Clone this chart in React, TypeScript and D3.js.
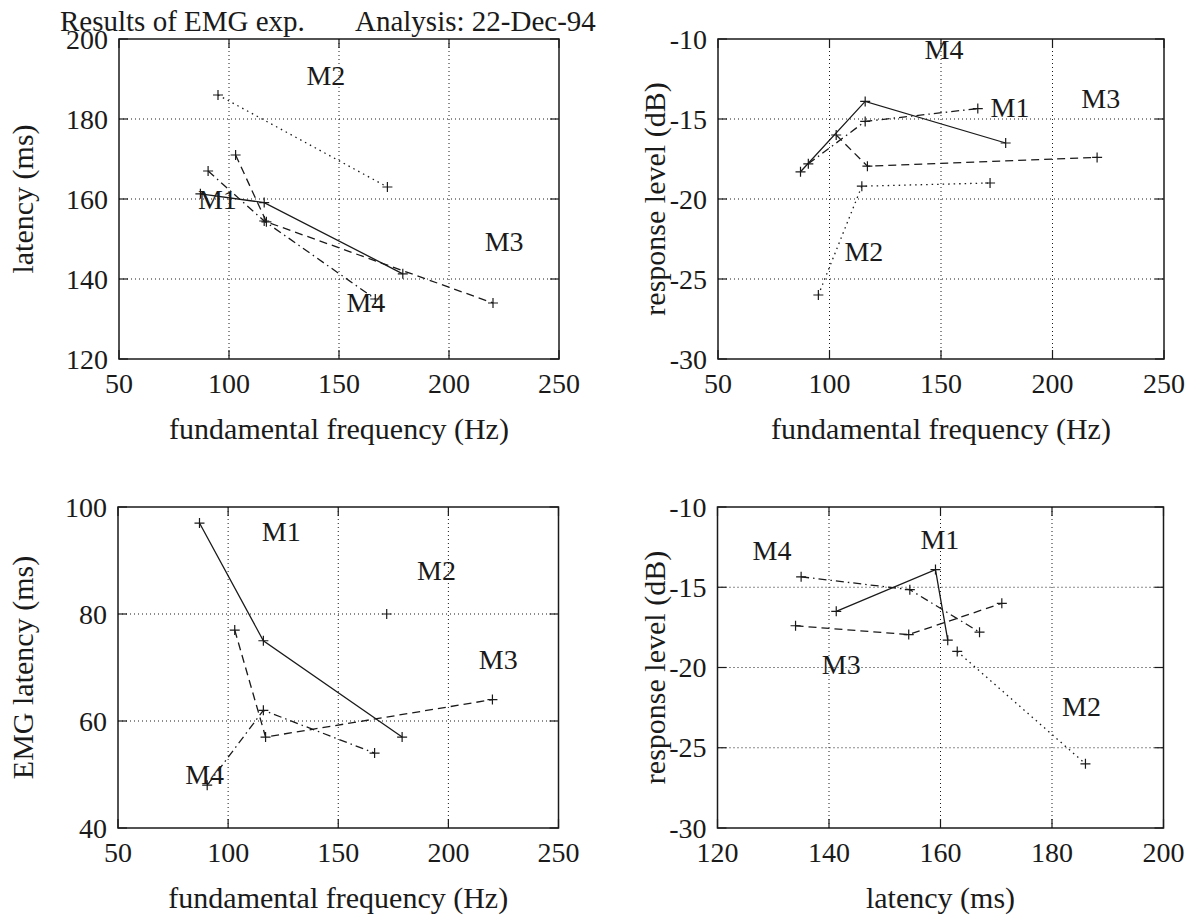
import React from 'react';
import * as d3 from 'd3';

// ---- data (per speaker, same stimulus order) ----
const speakerNames = ['M1', 'M2', 'M3', 'M4'];

const m1F0 = [87, 116, 179];
const m1Latency = [161.3, 159.1, 141.3];
const m1Response = [-18.3, -13.9, -16.5];
const m1Emg = [97, 75, 57];

const m2F0 = [95, 114.5, 172];
const m2Latency = [186, NaN, 163];
const m2Response = [-26, -19.2, -19];
const m2Emg = [NaN, NaN, 80];

const m3F0 = [103, 117, 220];
const m3Latency = [171, 154.3, 134];
const m3Response = [-16, -17.95, -17.4];
const m3Emg = [77, 57, 64];

const m4F0 = [90.5, 116, 166.5];
const m4Latency = [167, 154.5, 135];
const m4Response = [-17.8, -15.15, -14.35];
const m4Emg = [48, 62, 54];

const freqTicks = [50, 100, 150, 200, 250];
const latencyTicks = [120, 140, 160, 180, 200];
const responseTicks = [-30, -25, -20, -15, -10];
const emgTicks = [40, 60, 80, 100];

// speaker label anchors (data units) per panel, order M1..M4
const p1LabelX = [85.9, 135.2, 216.2, 153.4];
const p1LabelY = [157.5, 188.5, 147.1, 131.8];
const p2LabelX = [172.2, 106.7, 212.9, 142.6];
const p2LabelY = [-14.86, -23.9, -14.33, -11.27];
const p3LabelX = [115.3, 185.8, 213.8, 80.5];
const p3LabelY = [93.7, 86.4, 69.7, 48.2];
const p4LabelX = [156.4, 181.8, 138.7, 126.3];
const p4LabelY = [-12.6, -23.0, -20.4, -13.3];

type Series = { f0: number[]; latency: number[]; response: number[]; emg: number[] };
const speakers: Series[] = [
  { f0: m1F0, latency: m1Latency, response: m1Response, emg: m1Emg },
  { f0: m2F0, latency: m2Latency, response: m2Response, emg: m2Emg },
  { f0: m3F0, latency: m3Latency, response: m3Response, emg: m3Emg },
  { f0: m4F0, latency: m4Latency, response: m4Response, emg: m4Emg },
];

const dashes = ['none', '1.5,4', '8,5', '8,4,1.5,4'];

type Key = keyof Series;
const panels = [
  { xKey: 'f0' as Key, yKey: 'latency' as Key, box: [119, 39, 559, 359], xDomain: [50, 250], yDomain: [120, 200], xTicks: freqTicks, yTicks: latencyTicks, xLabel: 'fundamental frequency (Hz)', yLabel: 'latency (ms)', yLabelX: 33, lx: p1LabelX, ly: p1LabelY },
  { xKey: 'f0' as Key, yKey: 'response' as Key, box: [718, 39, 1164, 359], xDomain: [50, 250], yDomain: [-30, -10], xTicks: freqTicks, yTicks: responseTicks, xLabel: 'fundamental frequency (Hz)', yLabel: 'response level (dB)', yLabelX: 665, lx: p2LabelX, ly: p2LabelY },
  { xKey: 'f0' as Key, yKey: 'emg' as Key, box: [118, 507, 558.5, 828], xDomain: [50, 250], yDomain: [40, 100], xTicks: freqTicks, yTicks: emgTicks, xLabel: 'fundamental frequency (Hz)', yLabel: 'EMG latency (ms)', yLabelX: 33, lx: p3LabelX, ly: p3LabelY },
  { xKey: 'latency' as Key, yKey: 'response' as Key, box: [717.5, 507, 1163.5, 828], xDomain: [120, 200], yDomain: [-30, -10], xTicks: [120, 140, 160, 180, 200], yTicks: responseTicks, xLabel: 'latency (ms)', yLabel: 'response level (dB)', yLabelX: 665, lx: p4LabelX, ly: p4LabelY },
];

const FONT = '"Liberation Serif", "Times New Roman", serif';
const INK = '#1a1a1a';

function Panel({ p }: { p: (typeof panels)[number] }) {
  const [x0, y0, x1, y1] = p.box;
  const xs = d3.scaleLinear().domain(p.xDomain).range([x0, x1]);
  const ys = d3.scaleLinear().domain(p.yDomain).range([y1, y0]);
  const tl = 9;
  const line = d3.line<[number, number]>().x((d) => xs(d[0])).y((d) => ys(d[1]));
  return (
    <g>
      {/* grid */}
      {p.xTicks.slice(1, -1).map((t) => (
        <line key={'gx' + t} x1={xs(t)} x2={xs(t)} y1={y0} y2={y1} stroke={INK} strokeWidth={1} strokeDasharray="1,3" />
      ))}
      {p.yTicks.slice(1, -1).map((t) => (
        <line key={'gy' + t} x1={x0} x2={x1} y1={ys(t)} y2={ys(t)} stroke={INK} strokeWidth={1} strokeDasharray="1,3" />
      ))}
      {/* ticks */}
      {p.xTicks.map((t) => (
        <g key={'tx' + t}>
          <line x1={xs(t)} x2={xs(t)} y1={y1} y2={y1 - tl} stroke={INK} strokeWidth={1.2} />
          <line x1={xs(t)} x2={xs(t)} y1={y0} y2={y0 + tl} stroke={INK} strokeWidth={1.2} />
          <text x={xs(t)} y={y1 + 34} textAnchor="middle" fontFamily={FONT} fontSize={28} fill={INK}>{t}</text>
        </g>
      ))}
      {p.yTicks.map((t) => (
        <g key={'ty' + t}>
          <line x1={x0} x2={x0 + tl} y1={ys(t)} y2={ys(t)} stroke={INK} strokeWidth={1.2} />
          <line x1={x1} x2={x1 - tl} y1={ys(t)} y2={ys(t)} stroke={INK} strokeWidth={1.2} />
          <text x={x0 - 11} y={ys(t)} dy="0.34em" textAnchor="end" fontFamily={FONT} fontSize={28} fill={INK}>{t}</text>
        </g>
      ))}
      <rect x={x0} y={y0} width={x1 - x0} height={y1 - y0} fill="none" stroke={INK} strokeWidth={1.5} />
      {/* series */}
      {speakers.map((s, i) => {
        const xv = s[p.xKey];
        const yv = s[p.yKey];
        const pts: [number, number][] = xv
          .map((v, j) => [v, yv[j]] as [number, number])
          .filter((d) => isFinite(d[0]) && isFinite(d[1]))
          .sort((a, b) => a[0] - b[0]);
        return (
          <g key={'s' + i}>
            {pts.length > 1 && (
              <path d={line(pts) || ''} fill="none" stroke={INK} strokeWidth={1.3} strokeDasharray={dashes[i]} />
            )}
            {pts.map((d, j) => (
              <path key={j} d={`M${xs(d[0]) - 5},${ys(d[1])}H${xs(d[0]) + 5}M${xs(d[0])},${ys(d[1]) - 5}V${ys(d[1]) + 5}`} stroke={INK} strokeWidth={1.2} />
            ))}
          </g>
        );
      })}
      {/* speaker labels */}
      {speakerNames.map((n, i) => (
        <text key={'l' + n} x={xs(p.lx[i])} y={ys(p.ly[i])} fontFamily={FONT} fontSize={28} fill={INK}>{n}</text>
      ))}
      {/* axis labels */}
      <text x={(x0 + x1) / 2} y={y1 + 80} textAnchor="middle" fontFamily={FONT} fontSize={30} fill={INK}>{p.xLabel}</text>
      <text transform={`translate(${p.yLabelX},${(y0 + y1) / 2}) rotate(-90)`} textAnchor="middle" fontFamily={FONT} fontSize={30} fill={INK}>{p.yLabel}</text>
    </g>
  );
}

export default function App() {
  return (
    <svg width={1204} height={918} style={{ position: 'absolute', left: 0, top: 0, background: '#fff' }}>
      <rect x={0} y={0} width={1204} height={918} fill="#fff" />
      {panels.map((p, i) => (
        <Panel key={i} p={p} />
      ))}
      <text x={60} y={31} fontFamily={FONT} fontSize={29} fill={INK}>Results of EMG exp.</text>
      <text x={355} y={31} fontFamily={FONT} fontSize={29} fill={INK}>Analysis: 22-Dec-94</text>
    </svg>
  );
}
